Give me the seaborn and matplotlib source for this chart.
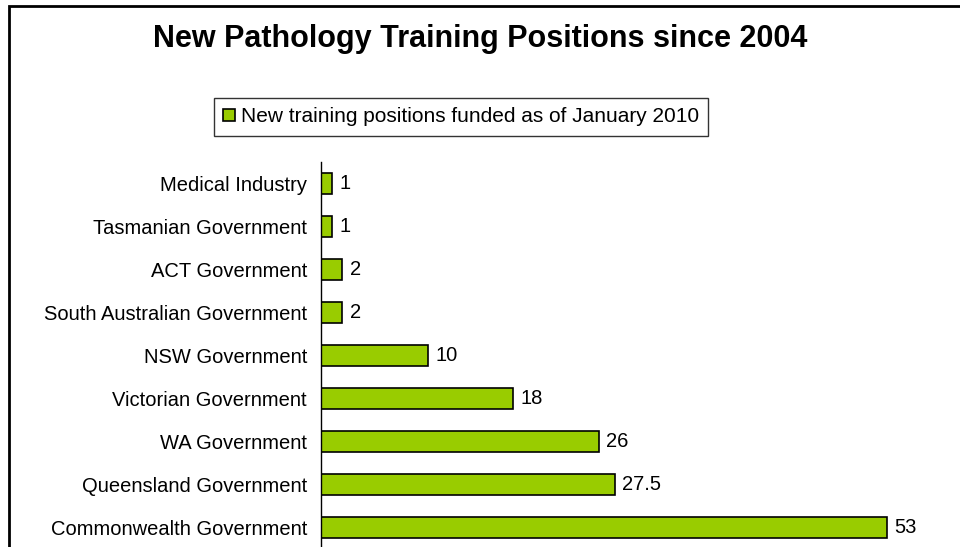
import pandas as pd
import seaborn as sns
import matplotlib.pyplot as plt
from matplotlib.patches import Rectangle, Patch

categories = ["Medical Industry", "Tasmanian Government", "ACT Government",
              "South Australian Government", "NSW Government", "Victorian Government",
              "WA Government", "Queensland Government", "Commonwealth Government"]
positions = [1, 1, 2, 2, 10, 18, 26, 27.5, 53]
value_labels = ["1", "1", "2", "2", "10", "18", "26", "27.5", "53"]
series_name = "New training positions funded as of January 2010"

df = pd.DataFrame({"source": categories, "positions": positions})

sns.set_style("white")
plt.rcParams['font.family'] = ['Liberation Sans', 'DejaVu Sans']
plt.rcParams['text.color'] = 'black'
plt.rcParams['ytick.color'] = 'black'
plt.rcParams['xtick.color'] = 'black'

W, H = 960, 547
fig = plt.figure(figsize=(W / 100, H / 100), dpi=100)

# axes placed in pixel terms: y axis at x=321, top at y=162, bottom just past the image
ax_left, ax_top, ax_bottom = 321, 162, 549
x_max = 60
px_per_unit = (887 - 321) / 53
ax_right = ax_left + x_max * px_per_unit
ax = fig.add_axes([ax_left / W, 1 - ax_bottom / H, (ax_right - ax_left) / W, (ax_bottom - ax_top) / H])

sns.barplot(data=df, x="positions", y="source", orient="h", color="#99CC00",
            edgecolor="black", linewidth=1.2, width=0.48, saturation=1, ax=ax)

for i, (v, lab) in enumerate(zip(positions, value_labels)):
    ax.text(v + 0.7, i, lab, va="center", ha="left", fontsize=14.5)

ax.set_xlim(0, x_max)
ax.set_ylim(len(categories) - 0.5, -0.5)
ax.set_xlabel("")
ax.set_ylabel("")
ax.set_xticks([])
for s in ["top", "right", "bottom"]:
    ax.spines[s].set_visible(False)
ax.spines["left"].set_color("black")
ax.spines["left"].set_linewidth(1)

# excel-like ticks between categories
ax.tick_params(axis="y", which="major", length=0, pad=10, labelsize=14.5)
ax.set_yticks([i + 0.5 for i in range(-1, len(categories))], minor=True)
ax.tick_params(axis="y", which="minor", length=5, width=1, color="black", direction="out")

fig.text(0.5, 1 - 39 / H, "New Pathology Training Positions since 2004",
         ha="center", va="center", fontsize=22, fontweight="bold")

handle = Patch(facecolor="#99CC00", edgecolor="black", linewidth=1.2)
leg = fig.legend([handle], [series_name], loc="center", bbox_to_anchor=(461 / W, 1 - 117 / H),
                 frameon=True, fancybox=False, fontsize=15, handlelength=0.55, handleheight=0.55,
                 handletextpad=0.3, borderpad=0.45, borderaxespad=0, edgecolor="black")
leg.get_frame().set_linewidth(1)

fig.patches.append(Rectangle((8.5 / W, -0.1), 1.2, 1 - 5.5 / H + 0.1, transform=fig.transFigure,
                             fill=False, edgecolor="black", linewidth=2))

fig.savefig("out.png", dpi=100)
